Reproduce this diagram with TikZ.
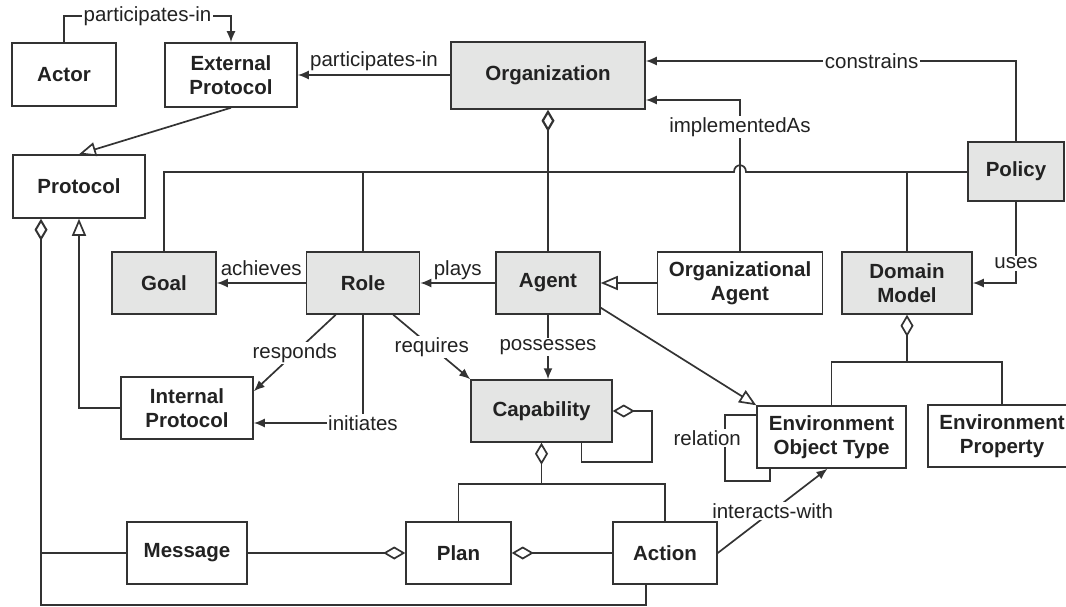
\documentclass[tikz,border=0pt]{standalone}
\usepackage{fontspec}
\setmainfont{Liberation Sans}
\usetikzlibrary{arrows.meta}
\definecolor{boxgray}{HTML}{E4E5E4}
\definecolor{ln}{HTML}{333333}
\definecolor{tx}{HTML}{222222}
\begin{document}
\begin{tikzpicture}[x=1pt,y=-1pt,
 every node/.style={font=\fontsize{20.5}{24.5}\selectfont, text=tx},
 box/.style={draw=ln, line width=1.5pt, fill=white, inner sep=0pt, align=center, font=\fontsize{20.5}{24.5}\selectfont\bfseries},
 graybox/.style={box, fill=boxgray},
 lbl/.style={fill=white, inner sep=1.5pt},
 abv/.style={anchor=base, yshift=8pt},
 conn/.style={draw=ln, line width=1.7pt},
 assoc/.style={conn, -{Latex[length=11pt,width=9pt]}},
 gen/.style={conn, -{Triangle[open,length=17pt,width=14pt,fill=white]}},
 aggS/.style={conn, {Diamond[open,length=22pt,width=13pt,fill=white]}-},
 aggE/.style={conn, -{Diamond[open,length=22pt,width=13pt,fill=white]}},
]
\useasboundingbox (0,0) rectangle (1066,607);
\clip (0,0) rectangle (1066,607);

% nodes
\node[box, minimum width=104pt, minimum height=63pt] (actor) at (64,74.5) {Actor};
\node[box, minimum width=132pt, minimum height=64pt] (extp) at (231,75) {External\\Protocol};
\node[box, minimum width=132pt, minimum height=63pt] (proto) at (79,186.5) {Protocol};
\node[graybox, minimum width=194pt, minimum height=67pt] (org) at (548,75.5) {Organization};
\node[graybox, minimum width=96pt, minimum height=59pt] (policy) at (1016,171.5) {Policy};
\node[graybox, minimum width=104pt, minimum height=62pt] (goal) at (164,283) {Goal};
\node[graybox, minimum width=113pt, minimum height=62pt] (role) at (363,283) {Role};
\node[graybox, minimum width=104pt, minimum height=62pt] (agent) at (548,283) {Agent};
\node[box, minimum width=165pt, minimum height=62pt] (orgag) at (740,283) {Organizational\\Agent};
\node[graybox, minimum width=130pt, minimum height=62pt] (dm) at (907,283) {Domain\\Model};
\node[box, minimum width=132pt, minimum height=62pt] (intp) at (187,408) {Internal\\Protocol};
\node[graybox, minimum width=141pt, minimum height=62pt] (cap) at (541.5,411) {Capability};
\node[box, minimum width=149pt, minimum height=62pt] (eot) at (831.5,437) {Environment\\Object Type};
\node[box, minimum width=148pt, minimum height=62pt] (envp) at (1002,436) {Environment\\Property};
\node[box, minimum width=120pt, minimum height=62pt] (msg) at (187,553) {Message};
\node[box, minimum width=105pt, minimum height=62pt] (plan) at (458.5,553) {Plan};
\node[box, minimum width=104pt, minimum height=62pt] (action) at (665,553) {Action};

% helper coordinates
\coordinate (ty) at (0,16);
\coordinate (cy) at (0,61);
\coordinate (iy) at (0,100);
\coordinate (by) at (0,172);
\coordinate (dmy) at (0,362);
\coordinate (cby) at (0,484);
\coordinate (py) at (0,605);
\coordinate (hop) at (orgag.north |- by);
\coordinate (pvx) at ([xshift=-38pt]proto.south);
\coordinate (ab) at ([xshift=-19pt]action.south);

% top relations
\draw[assoc] (actor.north) |- node[lbl,pos=0.75]{participates-in} (extp.north |- ty) -- (extp.north);
\draw[assoc] (org.west |- extp.east) -- node[abv]{participates-in} (extp.east);
\draw[assoc] (policy.north) |- node[lbl,pos=0.695]{constrains} (org.east |- cy);
\draw[assoc] (orgag.north) |- node[lbl,pos=0.41]{implementedAs} (org.east |- iy);
\draw[gen] (extp.south) -- (proto.north);

% organization bus
\draw[aggS, line width=2.2pt] (org.south) -- (agent.north);
\draw[conn] (goal.north) -- (goal.north |- by) -- ([xshift=-6pt]hop)
  .. controls ([xshift=-6pt,yshift=9pt]hop) and ([xshift=6pt,yshift=9pt]hop) .. ([xshift=6pt]hop)
  -- (policy.west |- by);
\draw[conn] (role.north) -- (role.north |- by);
\draw[conn] (dm.north) -- (dm.north |- by);
\draw[assoc] (policy.south) |- node[lbl,pos=0.38]{uses} (dm.east);

% middle row
\draw[assoc] (role.west) -- node[abv]{achieves} (goal.east);
\draw[assoc] (agent.west) -- node[abv]{plays} (role.east);
\draw[gen] (orgag.west) -- (agent.east);
\draw[assoc] ([xshift=30pt]role.south west) -- node[lbl]{responds} ([yshift=-15pt]intp.north east);
\draw[assoc] (role.south) |- node[lbl,pos=0.5]{initiates} ([yshift=-15pt]intp.east);
\draw[assoc] ([xshift=-27pt]role.south east) -- node[lbl]{requires} (cap.north west);
\draw[assoc] (agent.south) -- node[lbl]{possesses} (agent.south |- cap.north);
\draw[gen] ([yshift=7pt]agent.south east) -- (eot.north west);

% domain model
\draw[aggS] (dm.south) -- (dm.south |- dmy);
\draw[conn] (eot.north) |- (envp.north |- dmy) -- (envp.north);
\draw[conn] ([yshift=-10pt]eot.north west) -- ++(-31,0) -- node[lbl,pos=0.35,xshift=-18pt]{relation} ++(0,66) -| ([xshift=14pt]eot.south west);

% capability
\draw[aggS] (cap.east) -- ++(39,0) -- ++(0,51) -| ([xshift=40pt]cap.south);
\draw[aggS] (cap.south) -- (cap.south |- cby);
\draw[conn] (plan.north) |- (action.north |- cby) -- (action.north);
\draw[aggE] (msg.east) -- (plan.west);
\draw[aggS] (plan.east) -- (action.west);
\draw[assoc] (action.east) -- node[lbl]{interacts-with} ([xshift=-4pt]eot.south);

% protocol
\draw[aggS, line width=2pt] (pvx) |- (ab |- py) -- (ab);
\draw[conn] (msg.west) -- (msg.west -| pvx);
\draw[gen] (intp.west) -| (proto.south);
\end{tikzpicture}
\end{document}
